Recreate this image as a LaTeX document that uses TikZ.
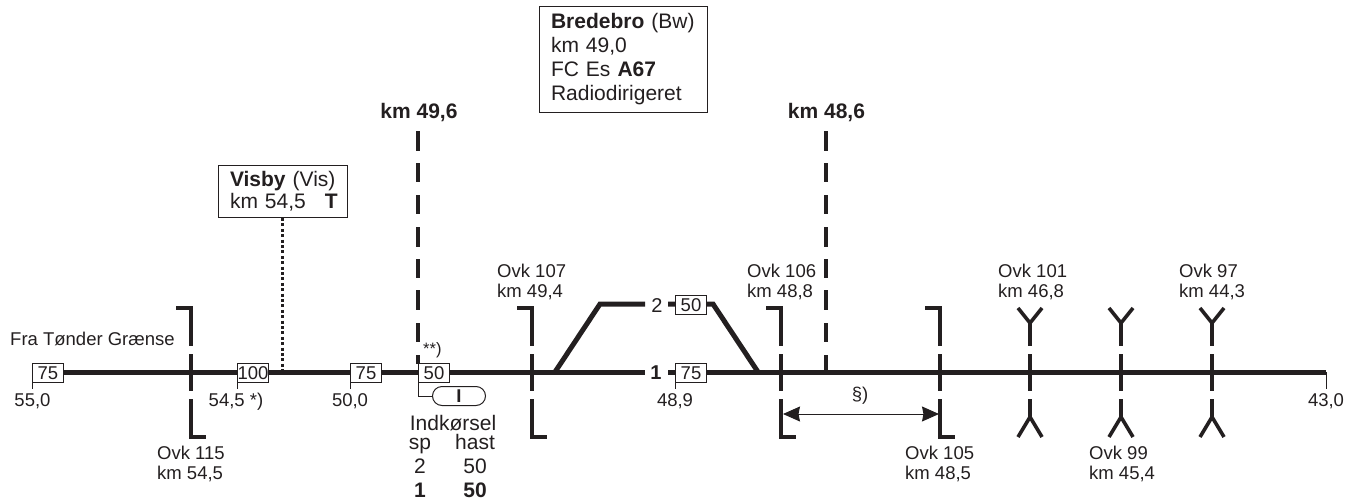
\documentclass[tikz,border=0pt]{standalone}
\usepackage{fontspec}
\setmainfont{Liberation Sans}
\usetikzlibrary{arrows.meta}
\definecolor{ink}{HTML}{231F20}
\tikzset{
  x=1pt,y=-1pt,
  every node/.style={text=ink,font=\fontsize{18.5}{20.7}\selectfont,inner sep=0pt},
  lbl/.style={align=left,anchor=north west},
  bigtxt/.style={font=\fontsize{21}{23}\selectfont},
  bigbold/.style={font=\fontsize{21}{23}\selectfont\bfseries},
  track/.style={draw=ink,line width=5pt},
  mark line/.style={draw=ink,line width=3.6pt},
  kmdash/.style={draw=ink,line width=3.6pt},
  thin line/.style={draw=ink,line width=1pt},
  speed/.style={draw=ink,fill=white,line width=1pt,minimum width=31pt,minimum height=19pt,anchor=north west},
}
\newcommand{\bracket}[3]{% x, top foot end x, bottom foot end x
  \draw[mark line] (#2,308) -- (#1,308) -- (#1,346);
  \draw[mark line] (#1,354) -- (#1,391);
  \draw[mark line] (#1,399) -- (#1,437) -- (#3,437);
}
\newcommand{\ysign}[1]{%
  \draw[mark line] (#1-12,308) -- (#1,323) -- (#1+12,308);
  \draw[mark line] (#1,323) -- (#1,346);
  \draw[mark line] (#1,354) -- (#1,391);
  \draw[mark line] (#1,399) -- (#1,417);
  \draw[mark line] (#1-12,437) -- (#1,417) -- (#1+12,437);
}
\begin{document}
\begin{tikzpicture}
\useasboundingbox (0,0) rectangle (1353,501);
% main track
\coordinate (w) at (32,372);
\coordinate (e) at (1326,372);
\coordinate (t1end) at (645,372);
\coordinate (t1start) at (668,372);
\draw[track] (w) -- (t1end);
\draw[track] (t1start) -- (e);
\coordinate (sw1) at (555,372);
\coordinate (sw1t) at (600,304);
\coordinate (t2end) at (645,304);
\coordinate (t2start) at (668,304);
\coordinate (sw2t) at (713,304);
\coordinate (sw2) at (758,372);
\draw[track,line join=miter] (sw1) -- (sw1t) -- (t2end);
\draw[track,line join=miter] (t2start) -- (sw2t) -- (sw2);
% km lines
\draw[kmdash] (418,131) -- (418,151) (418,163) -- (418,182) (418,195) -- (418,214) (418,227) -- (418,247) (418,259) -- (418,278) (418,290) -- (418,310) (418,323) -- (418,342) (418,355) -- (418,364);
\draw[kmdash] (826,131) -- (826,151) (826,163) -- (826,182) (826,195) -- (826,214) (826,227) -- (826,247) (826,259) -- (826,278) (826,290) -- (826,310) (826,323) -- (826,342) (826,355) -- (826,372);
% level crossings
\bracket{191}{176}{206}
\bracket{532}{517}{547}
\bracket{781}{766}{796}
\bracket{940}{925}{955}
\ysign{1030}
\ysign{1121}
\ysign{1212}
% ticks
\draw[thin line] (32,368) -- (32,389);
\draw[thin line] (237,382) -- (237,389);
\draw[thin line] (350,382) -- (350,389);
\draw[thin line] (675,382) -- (675,389);
\draw[thin line] (1326,372) -- (1326,389);
% speed boxes
\node[speed] (s75a) at (32,363) {75};
\node[speed] (s100) at (237,363) {100};
\node[speed] (s75b) at (350,363) {75};
\node[speed] (s50) at (418,363) {50};
\node[speed] (s75c) at (675,363) {75};
\node[speed] (s50b) at (675,295) {50};
% entry signal
\node[draw=ink,line width=1pt,rounded corners=9.5pt,minimum width=53pt,minimum height=19pt,anchor=north west,font=\fontsize{18.5}{20}\selectfont\bfseries] (sig) at (432,386) {I};
\draw[thin line] (s50.south west) |- (sig.west);
% arrow
\coordinate (al) at (783,414);
\coordinate (ar) at (939,414);
\draw[thin line,{Stealth[length=17pt,width=15pt,inset=1.5pt]}-{Stealth[length=17pt,width=15pt,inset=1.5pt]}] (al) -- (ar);
% texts
\node[anchor=base] (n550) at (32.5,406) {55,0};
\node[anchor=base] (n545) at (236,406) {54,5 *)};
\node[anchor=base] (n500) at (350,406) {50,0};
\node[anchor=base] (n489) at (675,406) {48,9};
\node[anchor=base] (n430) at (1326,406) {43,0};
\node[anchor=base west] (fra) at (10,345) {Fra Tønder Grænse};
\node[anchor=base west,font=\fontsize{16.5}{18}\selectfont] (sec) at (423,354) {**)};
\node[anchor=base] (sect) at (860,400) {§)};
\node[anchor=base,bigbold] (k1) at (419,118) {km 49,6};
\node[anchor=base,bigbold] (k2) at (826.5,118) {km 48,6};
\node[anchor=base,font=\fontsize{20}{22}\selectfont] (l2) at (657,312) {2};
\node[anchor=base,font=\fontsize{20}{22}\selectfont\bfseries] (l1) at (656,379) {1};
\node[lbl] (o115) at (157,445.5) {Ovk 115\\km 54,5};
\node[lbl] (o107) at (497,263.5) {Ovk 107\\km 49,4};
\node[lbl] (o106) at (747,263.5) {Ovk 106\\km 48,8};
\node[lbl] (o105) at (905,445.5) {Ovk 105\\km 48,5};
\node[lbl] (o101) at (998,263.5) {Ovk 101\\km 46,8};
\node[lbl] (o99) at (1089,445.5) {Ovk 99\\km 45,4};
\node[lbl] (o97) at (1179,263.5) {Ovk 97\\km 44,3};
% Indkorsel
\node[anchor=base,bigtxt] (ind) at (453,430) {Indkørsel};
\node[anchor=base,bigtxt] (sp) at (420,449) {sp};
\node[anchor=base,bigtxt] (hast) at (475,449) {hast};
\node[anchor=base,bigtxt] (r2) at (420,473) {2};
\node[anchor=base,bigtxt] (v2) at (475,473) {50};
\node[anchor=base,bigbold] (r1) at (420,497) {1};
\node[anchor=base,bigbold] (v1) at (475,497) {50};
% info boxes
\node[draw=ink,fill=white,line width=1pt,align=left,anchor=north west,text width=129pt,minimum height=52pt,inner xsep=0pt,font=\fontsize{21}{21.7}\selectfont] (vis) at (217.5,165) {\hspace*{12pt}\textbf{Visby} (Vis)\\\hspace*{12pt}km 54,5\hspace{19pt}\textbf{T}};
\node[draw=ink,fill=white,line width=1pt,align=left,anchor=north west,text width=144pt,minimum height=106.5pt,inner xsep=12pt,font=\fontsize{21}{23.8}\selectfont] (bre) at (538.5,5.5) {\textbf{Bredebro} (Bw)\\km 49,0\\FC Es \textbf{A67}\\Radiodirigeret};
% dotted
\coordinate (vb) at (282,370);
\draw[ink,line width=3pt,dash pattern=on 3pt off 2.4pt] (vis.south -| vb) -- (vb);
\end{tikzpicture}
\end{document}
